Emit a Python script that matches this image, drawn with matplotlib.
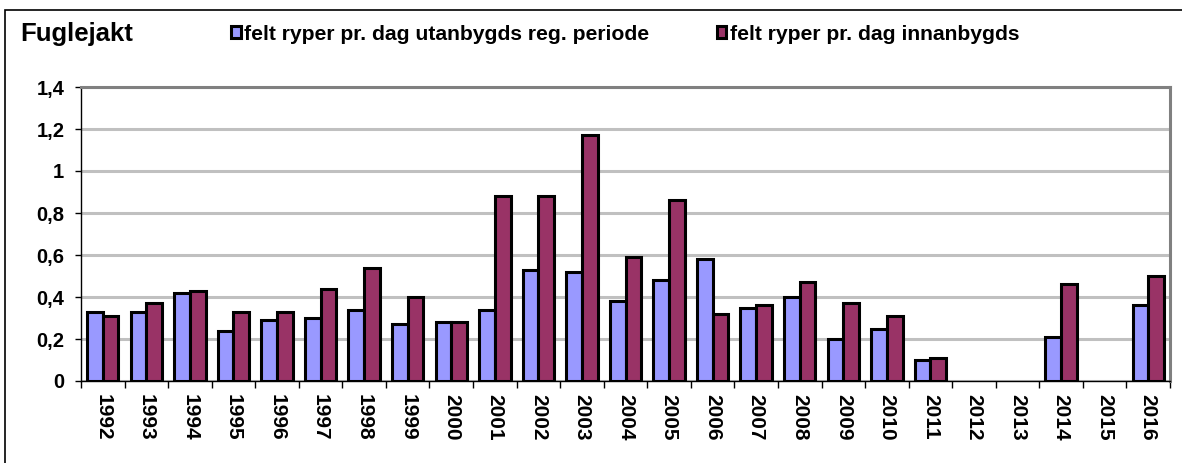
import numpy as np
import matplotlib.pyplot as plt
from matplotlib.patches import Rectangle

plt.rcParams['font.family'] = ['Liberation Sans', 'DejaVu Sans']
plt.rcParams['font.weight'] = 'bold'

years = ['1992', '1993', '1994', '1995', '1996', '1997', '1998', '1999', '2000',
         '2001', '2002', '2003', '2004', '2005', '2006', '2007', '2008', '2009',
         '2010', '2011', '2012', '2013', '2014', '2015', '2016']
# nan = no data that year
utanbygds = [0.33, 0.33, 0.42, 0.24, 0.29, 0.30, 0.34, 0.27, 0.28, 0.34, 0.53, 0.52,
             0.38, 0.48, 0.58, 0.35, 0.40, 0.20, 0.25, 0.10, np.nan, np.nan, 0.21,
             np.nan, 0.36]
innanbygds = [0.31, 0.37, 0.43, 0.33, 0.33, 0.44, 0.54, 0.40, 0.28, 0.88, 0.88, 1.17,
              0.59, 0.86, 0.32, 0.36, 0.47, 0.37, 0.31, 0.11, np.nan, np.nan, 0.46,
              np.nan, 0.50]
yticks = [0, 0.2, 0.4, 0.6, 0.8, 1.0, 1.2, 1.4]
ytick_labels = ['0', '0,2', '0,4', '0,6', '0,8', '1', '1,2', '1,4']

fig = plt.figure(figsize=(11.82, 4.63), dpi=100)

# outer chart frame (right and bottom edges fall outside the picture)
fig.patches.append(Rectangle((5 / 1182, -10 / 463), 1200 / 1182, 463 / 463,
                             transform=fig.transFigure, fill=False,
                             edgecolor='black', linewidth=1.2))

ax = fig.add_axes([81 / 1182, 1 - 381 / 463, 1089 / 1182, 294 / 463])

x = np.arange(len(years))
w = 0.36
ax.bar(x - w / 2, utanbygds, w, color='#9999FF', edgecolor='black', linewidth=2.2,
       zorder=3, label='felt ryper pr. dag utanbygds reg. periode')
ax.bar(x + w / 2, innanbygds, w, color='#993366', edgecolor='black', linewidth=2.2,
       zorder=3, label='felt ryper pr. dag innanbygds')

ax.set_xlim(-0.5, len(years) - 0.5)
ax.set_ylim(0, 1.4)
ax.set_yticks(yticks)
ax.set_yticklabels(ytick_labels, fontsize=14.5, fontweight='bold')
ax.set_xticks(x)
ax.set_xticklabels(years, rotation=270, fontsize=15, fontweight='bold')
ax.set_xticks(np.arange(-0.5, len(years), 1), minor=True)
ax.tick_params(axis='x', which='major', length=0, pad=9)
ax.tick_params(axis='x', which='minor', length=5, width=1, color='black')
ax.tick_params(axis='y', length=4, width=1, pad=8)

ax.grid(axis='y', color='#C0C0C0', linewidth=2.2, zorder=0)
for s in ['top', 'right']:
    ax.spines[s].set_color('#808080')
    ax.spines[s].set_linewidth(2.2)
ax.spines['left'].set_color('black')
ax.spines['bottom'].set_color('black')
ax.spines['left'].set_linewidth(1)
ax.spines['bottom'].set_linewidth(1)

fig.text(20 / 1182, 1 - 34 / 463, 'Fuglejakt', fontsize=18.5, fontweight='bold',
         va='center', ha='left')

fig.legend(loc='center left', bbox_to_anchor=(231 / 1182, 1 - 34 / 463), ncol=2,
           frameon=False, handlelength=0.45, handleheight=0.45,
           handletextpad=0.18, columnspacing=3.2, borderpad=0, borderaxespad=0,
           prop={'weight': 'bold', 'size': 15.2})

fig.savefig('out.png', dpi=100)
